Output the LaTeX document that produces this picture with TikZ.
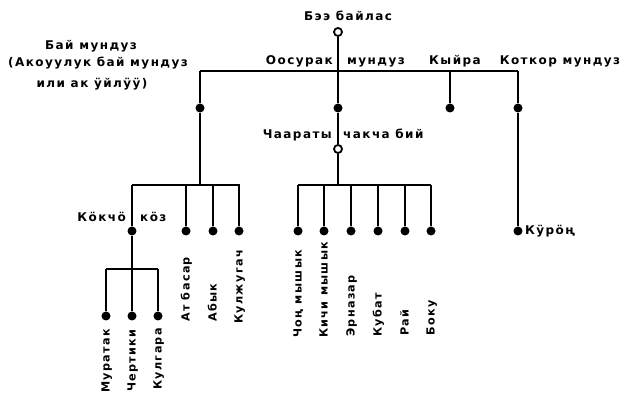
\documentclass[tikz,border=0pt]{standalone}
\usepackage{fontspec}
\newfontfamily\labfont{DejaVu Sans Bold}[LetterSpace=12]
\begin{document}
\begin{tikzpicture}[x=1pt,y=-1pt,
  lbl/.style={font=\labfont\fontsize{12}{14}\selectfont, inner sep=0pt},
  hlab/.style={lbl, anchor=base},
  vlab/.style={lbl, font=\labfont\fontsize{11.2}{13}\selectfont, rotate=90, anchor=west, text height=0.7em, text depth=0pt},
  dot/.style={circle, fill=black, inner sep=0pt, minimum size=9pt},
  odot/.style={circle, draw=black, fill=white, line width=1.8pt, inner sep=0pt, minimum size=8pt},
  ln/.style={line width=2.8pt}]
\useasboundingbox (0,0) rectangle (622,395);
% top level
\node[odot] (top) at (338,32) {};
\node[hlab] (tbee) at (348,21) {Бээ байлас};
\coordinate (jL) at (200,71);
\coordinate (jM) at (338,71);
\coordinate (jK) at (450,71);
\coordinate (jR) at (518,71);
\node[dot] (dL) at (200,108) {};
\node[dot] (dM) at (338,108) {};
\node[dot] (dK) at (450,108) {};
\node[dot] (dR) at (518,108) {};
\node[odot] (oM) at (338,149) {};
\draw[ln] (jL) -- (jR);
\draw[ln] (jL) -- (dL);
\draw[ln] (jK) -- (dK);
\draw[ln] (jR) -- (dR);
\draw[ln] (top) -- (dM);
\draw[ln] (dM) -- (oM);
% labels of top level
\node[hlab, anchor=base east] (loos) at (333,65) {Оосурак};
\node[hlab, anchor=base west] (lmun) at (347,65) {мундуз};
\node[hlab] (lkyi) at (455,65) {Кыйра};
\node[hlab] (lkot) at (560,65) {Коткор мундуз};
\node[hlab] (lb1) at (91,50) {Бай мундуз};
\node[hlab] (lb2) at (98,67) {(Акоуулук бай мундуз};
\node[hlab] (lb3) at (92,88) {или ак ӱйлӱӱ)};
\node[hlab, anchor=base east] (lch1) at (332,139) {Чаараты};
\node[hlab, anchor=base west] (lch2) at (343,139) {чакча бий};
% left branch
\coordinate (bL1) at (132,185);
\coordinate (bL2) at (240,185);
\coordinate (bLm) at (200,185);
\draw[ln] (dL) -- (bLm);
\draw[ln] (bL1) -- (bL2);
\node[dot] (kk) at (132,231) {};
\node[dot] (at) at (186,231) {};
\node[dot] (ab) at (213,231) {};
\node[dot] (ku) at (239,231) {};
\draw[ln] (bL1) -- (kk);
\draw[ln] (at |- bL1) -- (at);
\draw[ln] (ab |- bL1) -- (ab);
\draw[ln] (ku |- bL1) -- (ku);
\node[hlab, anchor=base east] (lkk1) at (126,222) {Кӧкчӧ};
\node[hlab, anchor=base west] (lkk2) at (140,222) {кӧз};
\node[vlab] (lat) at (186,322) {Ат басар};
\node[vlab] (lab) at (213,322) {Абык};
\node[vlab] (lku) at (239,324) {Кулжугач};
% sub-branch of Kokcho koz
\coordinate (bK1) at (106,269);
\coordinate (bK2) at (158,269);
\draw[ln] (kk) -- (kk |- bK1);
\draw[ln] (bK1) -- (bK2);
\node[dot] (m1) at (106,316) {};
\node[dot] (m2) at (132,316) {};
\node[dot] (m3) at (158,316) {};
\draw[ln] (m1 |- bK1) -- (m1);
\draw[ln] (m2 |- bK1) -- (m2);
\draw[ln] (m3 |- bK1) -- (m3);
\node[vlab] (lm1) at (106,393) {Муратак};
\node[vlab] (lm2) at (132,392) {Чертики};
\node[vlab] (lm3) at (158,390) {Кулгара};
% middle branch
\coordinate (bM1) at (298,185);
\coordinate (bM2) at (431,185);
\draw[ln] (oM) -- (oM |- bM1);
\draw[ln] (bM1) -- (bM2);
\foreach \n/\x in {c1/298,c2/324,c3/351,c4/378,c5/405,c6/431}{
  \node[dot] (\n) at (\x,231) {};
  \draw[ln] (\n |- bM1) -- (\n);
}
\node[vlab] (lc1) at (298,338) {Чоң мышык};
\node[vlab] (lc2) at (324,338) {Кичи мышык};
\node[vlab] (lc3) at (351,337) {Эрназар};
\node[vlab] (lc4) at (378,337) {Кубат};
\node[vlab] (lc5) at (405,336) {Рай};
\node[vlab] (lc6) at (431,336) {Боку};
% right branch
\node[dot] (kr) at (518,231) {};
\draw[ln] (dR) -- (kr);
\node[lbl, anchor=west, text height=0.7em, text depth=0pt] (lkr) at (525,231) {Кӱрӧң};
\end{tikzpicture}
\end{document}
